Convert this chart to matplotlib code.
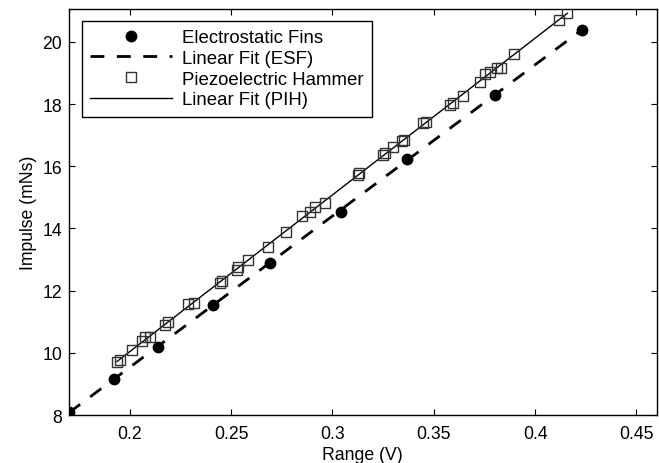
import numpy as np
import matplotlib
matplotlib.use("Agg")
import matplotlib.pyplot as plt

plt.rcParams['font.family'] = ['Liberation Sans', 'DejaVu Sans']

# Electrostatic fins data
esf_range = [0.170, 0.192, 0.214, 0.241, 0.269, 0.304, 0.337, 0.380, 0.423]
esf_impulse = [8.10, 9.15, 10.20, 11.55, 12.88, 14.54, 16.22, 18.30, 20.40]

# Piezoelectric hammer data
pih_range = [0.1937, 0.1954, 0.2013, 0.2058, 0.2074, 0.2102, 0.2173, 0.2189,
             0.2288, 0.2316, 0.2444, 0.2453, 0.2527, 0.2535, 0.2584, 0.2680,
             0.2769, 0.2848, 0.2888, 0.2913, 0.2963, 0.3124, 0.3132, 0.3250,
             0.3259, 0.3300, 0.3341, 0.3353, 0.3448, 0.3460, 0.3580, 0.3596,
             0.3642, 0.3728, 0.3752, 0.3777, 0.3810, 0.3830, 0.3897, 0.4117,
             0.4159]
pih_impulse = [9.71, 9.76, 10.09, 10.39, 10.50, 10.50, 10.89, 10.98,
               11.57, 11.60, 12.24, 12.32, 12.67, 12.75, 12.98, 13.41,
               13.89, 14.39, 14.52, 14.68, 14.82, 15.72, 15.80, 16.36,
               16.42, 16.63, 16.82, 16.85, 17.38, 17.43, 17.97, 18.03,
               18.25, 18.72, 18.96, 19.05, 19.16, 19.15, 19.61, 20.70,
               20.93]

x_ticks = [0.2, 0.25, 0.3, 0.35, 0.4, 0.45]
x_tick_labels = ['0.2', '0.25', '0.3', '0.35', '0.4', '0.45']
y_ticks = [8, 10, 12, 14, 16, 18, 20]


def fit_line(x, y):
    p = np.polyfit(x, y, 1)
    xs = np.array([min(x), max(x)])
    return xs, np.polyval(p, xs)


fig = plt.figure(figsize=(6.59, 4.64), dpi=100)
ax = fig.add_axes([0.1047, 0.1034, 0.8918, 0.875])

ax.plot(esf_range, esf_impulse, 'o', color='black', markersize=7.5,
        label='Electrostatic Fins', zorder=3)
xs, ys = fit_line(esf_range, esf_impulse)
ax.plot(xs, ys, color='black', lw=2, linestyle=(0, (5, 4.5)),
        label='Linear Fit (ESF)', zorder=2)
ax.plot(pih_range, pih_impulse, 's', markerfacecolor='none',
        markeredgecolor='0.2', markeredgewidth=1, markersize=7.5,
        label='Piezoelectric Hammer', zorder=3)
xs, ys = fit_line(pih_range, pih_impulse)
ax.plot(xs, ys, color='black', lw=1, label='Linear Fit (PIH)', zorder=2)

ax.set_xlim(0.17, 0.46)
ax.set_ylim(8, 21.06)
ax.set_xticks(x_ticks, x_tick_labels)
ax.set_yticks(y_ticks)
ax.tick_params(direction='in', top=True, right=True, length=4, width=0.8,
               labelsize=12.7)
ax.tick_params(axis='x', pad=7)
ax.tick_params(axis='y', pad=5)
for s in ax.spines.values():
    s.set_linewidth(1)

ax.set_xlabel('Range (V)', fontsize=12.7, labelpad=3)
ax.set_ylabel('Impulse (mNs)', fontsize=12.7, labelpad=4)

leg = ax.legend(loc='upper left', bbox_to_anchor=(0.0216, 0.971),
                borderaxespad=0, fontsize=13.4, handlelength=4.4,
                labelspacing=0.2, handletextpad=0.55, borderpad=0.45,
                fancybox=False, framealpha=1, edgecolor='black')
leg.get_frame().set_linewidth(1)

plt.savefig('out.png', dpi=100)
